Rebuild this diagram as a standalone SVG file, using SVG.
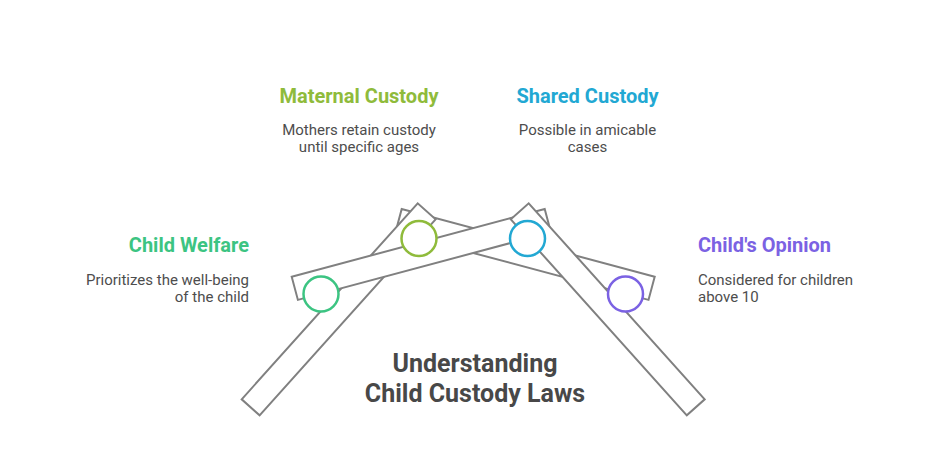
<svg xmlns="http://www.w3.org/2000/svg" width="936" height="461" viewBox="0 0 936 461">
  <style>
    .bar { fill: #ffffff; stroke: #808080; stroke-width: 2; stroke-linejoin: miter; }
    .dot { fill: #ffffff; stroke-width: 2.5; }
    .head { font-family: Roboto, "Liberation Sans", sans-serif; font-weight: 700; font-size: 20px; }
    .desc { font-family: Roboto, "Liberation Sans", sans-serif; font-size: 15px; fill: #4d4d4d; }
    .title { font-family: Roboto, "Liberation Sans", sans-serif; font-weight: 700; font-size: 25px; fill: #484848; text-anchor: middle; }
  </style>
  <rect width="936" height="461" fill="#ffffff"/>
  <g id="connectors">
    <polygon class="bar" points="654.7,276.7 401.7,209 395.5,232.2 648.5,299.9"/>
    <polygon class="bar" points="241.7,399.3 417.7,203.3 435.6,219.3 259.6,415.3"/>
    <polygon class="bar" points="291.7,276.7 544.7,209 550.9,232.2 297.9,299.9"/>
    <polygon class="bar" points="704.7,399.3 528.7,203.3 510.8,219.3 686.8,415.3"/>
  </g>
  <g id="node-child-welfare">
    <circle class="dot" cx="321" cy="294" r="17.5" stroke="#3cc482"/>
    <text class="head" x="249" y="252" fill="#3cc482" text-anchor="end">Child Welfare</text>
    <text class="desc" x="249" y="285" text-anchor="end">Prioritizes the well-being</text>
    <text class="desc" x="249" y="302" text-anchor="end">of the child</text>
  </g>
  <g id="node-maternal-custody">
    <circle class="dot" cx="419" cy="238.5" r="17.5" stroke="#8fbb3b"/>
    <text class="head" x="359" y="103" fill="#8fbb3b" text-anchor="middle">Maternal Custody</text>
    <text class="desc" x="359" y="135" text-anchor="middle">Mothers retain custody</text>
    <text class="desc" x="359" y="152" text-anchor="middle">until specific ages</text>
  </g>
  <g id="node-shared-custody">
    <circle class="dot" cx="527.5" cy="238.5" r="17.5" stroke="#22a8d3"/>
    <text class="head" x="587.5" y="103" fill="#22a8d3" text-anchor="middle">Shared Custody</text>
    <text class="desc" x="587.5" y="135" text-anchor="middle">Possible in amicable</text>
    <text class="desc" x="587.5" y="152" text-anchor="middle">cases</text>
  </g>
  <g id="node-childs-opinion">
    <circle class="dot" cx="625.5" cy="294" r="17.5" stroke="#7b62e3"/>
    <text class="head" x="698" y="252" fill="#7b62e3">Child's Opinion</text>
    <text class="desc" x="698" y="285">Considered for children</text>
    <text class="desc" x="698" y="302">above 10</text>
  </g>
  <g id="title">
    <text class="title" x="475" y="372">Understanding</text>
    <text class="title" x="475" y="402">Child Custody Laws</text>
  </g>
</svg>
